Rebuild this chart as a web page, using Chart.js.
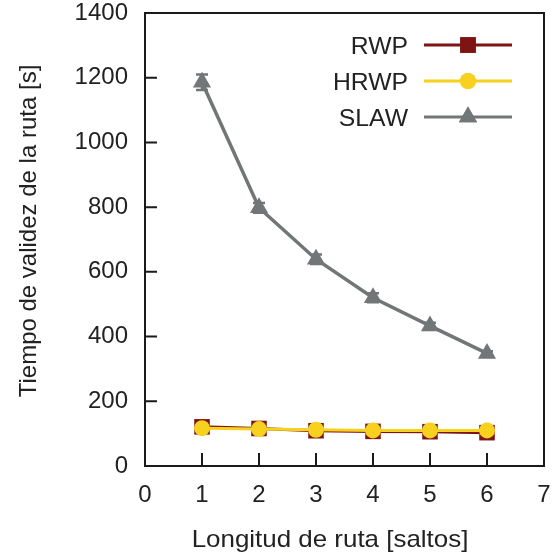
<!DOCTYPE html>
<html lang="es">
<head>
<meta charset="UTF-8">
<script src="https://cdn.jsdelivr.net/npm/chart.js"></script>
<style>
  html, body { margin: 0; padding: 0; background: #fff; }
  #wrap { width: 555px; height: 552px; }
</style>
<title>Tiempo de validez de la ruta</title>
</head>
<body>
<div id="wrap"><canvas id="grafico"></canvas></div>
<script>
// datos
const saltos = [1, 2, 3, 4, 5, 6];
const rwp = [121, 116, 109, 107, 106, 103];
const rwpErr = [5, 5, 5, 5, 5, 5];
const hrwp = [117, 114, 112, 110, 110, 110];
const hrwpErr = [4, 4, 4, 4, 4, 4];
const slaw = [1186, 798, 639, 520, 433, 348];
const slawErr = [24, 15, 15, 14, 10, 7];
const yTicks = [0, 200, 400, 600, 800, 1000, 1200, 1400];
const xTicks = [0, 1, 2, 3, 4, 5, 6, 7];

const fuente = "'Liberation Sans', Arial, sans-serif";
const colores = { RWP: '#7f1414', HRWP: '#f7d11e', SLAW: '#727676' };

function puntos(vals) {
    return saltos.map(function (x, i) { return { x: x, y: vals[i] }; });
}

const series = [
    { label: 'RWP', data: rwp, err: rwpErr, estilo: 'rect', radio: 11, orden: 1 },
    { label: 'HRWP', data: hrwp, err: hrwpErr, estilo: 'circle', radio: 8, orden: 0 },
    { label: 'SLAW', data: slaw, err: slawErr, estilo: 'triangle', radio: 10.5, orden: 2 }
];

// texto horizontal un poco ensanchado, como en la figura original
function textoAncho(ctx, txt, x, y, f) {
    ctx.save();
    ctx.translate(x, y);
    ctx.scale(f, 1);
    ctx.fillText(txt, 0, 0);
    ctx.restore();
}

// barras de error, marco y leyenda
const extras = {
    id: 'extras',
    beforeDatasetsDraw(chart) {
        const ctx = chart.ctx;
        const xs = chart.scales.x, ys = chart.scales.y;
        ctx.save();
        series.forEach(function (s) {
            ctx.strokeStyle = colores[s.label];
            ctx.lineWidth = 2.5;
            s.data.forEach(function (v, i) {
                const px = xs.getPixelForValue(saltos[i]);
                const top = ys.getPixelForValue(v + s.err[i]);
                const bot = ys.getPixelForValue(v - s.err[i]);
                ctx.beginPath();
                ctx.moveTo(px, top); ctx.lineTo(px, bot);
                ctx.moveTo(px - 6, top); ctx.lineTo(px + 6, top);
                ctx.moveTo(px - 6, bot); ctx.lineTo(px + 6, bot);
                ctx.stroke();
            });
        });
        ctx.restore();
    },
    afterDraw(chart) {
        const ctx = chart.ctx;
        const a = chart.chartArea;
        const xs = chart.scales.x, ys = chart.scales.y;
        ctx.save();
        // marco
        ctx.strokeStyle = '#1a1a1a';
        ctx.lineWidth = 2;
        ctx.strokeRect(a.left, a.top, a.right - a.left, a.bottom - a.top);
        // ticks hacia dentro
        ctx.beginPath();
        yTicks.forEach(function (t) {
            const py = ys.getPixelForValue(t);
            ctx.moveTo(a.left, py); ctx.lineTo(a.left + 12, py);
        });
        xTicks.forEach(function (t) {
            const px = xs.getPixelForValue(t);
            ctx.moveTo(px, a.bottom); ctx.lineTo(px, a.bottom - 13);
        });
        ctx.stroke();

        // leyenda
        ctx.font = '24px ' + fuente;
        ctx.textAlign = 'right';
        ctx.textBaseline = 'alphabetic';
        series.forEach(function (s, i) {
            const ly = 45 + i * 36;
            ctx.fillStyle = '#222';
            textoAncho(ctx, s.label, 408, ly + 9, 1.03);
            ctx.strokeStyle = colores[s.label];
            ctx.lineWidth = 3;
            ctx.beginPath();
            ctx.moveTo(424, ly); ctx.lineTo(512, ly);
            ctx.stroke();
            ctx.fillStyle = colores[s.label];
            Chart.helpers.drawPoint(ctx, { pointStyle: s.estilo, radius: s.radio, rotation: 0, borderWidth: 0 }, 468, ly);
            ctx.fill();
        });

        // titulos de ejes
        ctx.fillStyle = '#222';
        ctx.textAlign = 'center';
        textoAncho(ctx, 'Longitud de ruta [saltos]', 330, 547, 1.08);
        ctx.translate(36, 231);
        ctx.rotate(-Math.PI / 2);
        ctx.fillText('Tiempo de validez de la ruta [s]', 0, 0);
        ctx.restore();
    }
};

const datos = {
    datasets: series.map(function (s) {
        return {
            label: s.label,
            data: puntos(s.data),
            borderColor: colores[s.label],
            backgroundColor: colores[s.label],
            borderWidth: s.label === 'SLAW' ? 3.5 : 3,
            pointStyle: s.estilo,
            pointRadius: s.radio,
            pointBorderWidth: 0,
            pointBackgroundColor: colores[s.label],
            order: s.orden,
            tension: 0
        };
    })
};

const config = {
    type: 'line',
    data: datos,
    options: {
        responsive: true,
        maintainAspectRatio: false,
        animation: false,
        layout: { padding: { left: 0, top: 13, right: 6, bottom: 0 } },
        plugins: { legend: { display: false }, tooltip: { enabled: false } },
        scales: {
            x: {
                type: 'linear',
                min: 0, max: 7,
                grid: { display: false, drawTicks: false },
                border: { display: false },
                ticks: {
                    stepSize: 1, padding: 15, color: '#222',
                    font: { family: fuente, size: 24 },
                    callback: function (v) { return String(v); }
                },
                afterFit(scale) {
                    scale.height = 86;
                    scale.paddingLeft = 0; scale.paddingRight = 0;
                }
            },
            y: {
                min: 0, max: 1400,
                grid: { display: false, drawTicks: false },
                border: { display: false },
                ticks: {
                    stepSize: 200, padding: 17, color: '#222',
                    font: { family: fuente, size: 24 },
                    callback: function (v) { return String(v); }
                },
                afterFit(scale) {
                    scale.width = 145;
                    scale.paddingTop = 0; scale.paddingBottom = 0;
                }
            }
        }
    },
    plugins: [extras]
};

const grafico = new Chart(document.getElementById('grafico'), config);
</script>
</body>
</html>
